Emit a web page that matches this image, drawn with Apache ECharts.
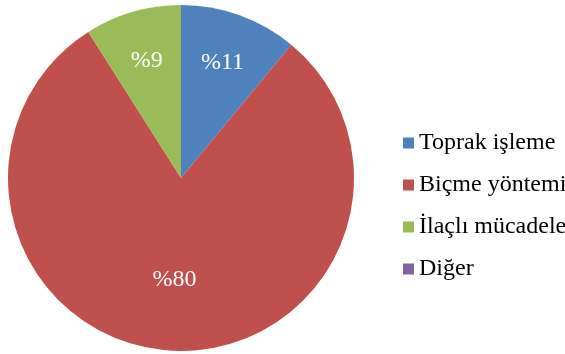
<!DOCTYPE html>
<html>
<head>
<meta charset="utf-8">
<script src="https://cdn.jsdelivr.net/npm/echarts@6/dist/echarts.min.js"></script>
<style>
  html, body { margin: 0; padding: 0; background: #fff; }
  #chart { width: 565px; height: 354px; }
</style>
</head>
<body>
<div id="chart"></div>
<script>
const categories = ['Toprak işleme', 'Biçme yöntemi', 'İlaçlı mücadele', 'Diğer']
const shares = [11, 80, 9, 0]
const colors = ['#4F81BD', '#C0504D', '#9BBB59', '#8064A2']

const pieData = categories.map((name, i) => ({ value: shares[i], name }))
const serif = '"Liberation Serif", "Times New Roman", serif'
const center = [181, 178]
const R = 173

// label rings: the label sits at the middle of [inner, outer]
function labelRing(inner, show) {
    return {
        type: 'pie',
        silent: true,
        center,
        radius: [inner, R],
        startAngle: 90,
        clockwise: true,
        animation: false,
        itemStyle: { color: 'rgba(0,0,0,0)', borderWidth: 0 },
        label: {
            show: true,
            position: 'inner',
            color: '#fff',
            fontFamily: serif,
            fontSize: 24,
            formatter: p => show.includes(p.dataIndex) ? '%' + p.value : ''
        },
        labelLine: { show: false },
        data: pieData
    }
}

const chart = echarts.init(document.getElementById('chart'))
chart.setOption({
    animation: false,
    color: colors,
    legend: {
        orient: 'vertical',
        left: 398,
        top: 126,
        icon: 'rect',
        itemWidth: 11,
        itemHeight: 11,
        itemGap: 18,
        textStyle: { fontFamily: serif, fontSize: 24, color: '#000' },
        data: categories
    },
    series: [
        {
            type: 'pie',
            center,
            radius: R,
            startAngle: 90,
            clockwise: true,
            itemStyle: { borderWidth: 0 },
            label: { show: false },
            labelLine: { show: false },
            data: pieData
        },
        labelRing(0.38 * R, [0, 2]),
        labelRing(0.14 * R, [1])
    ]
})
</script>
</body>
</html>
